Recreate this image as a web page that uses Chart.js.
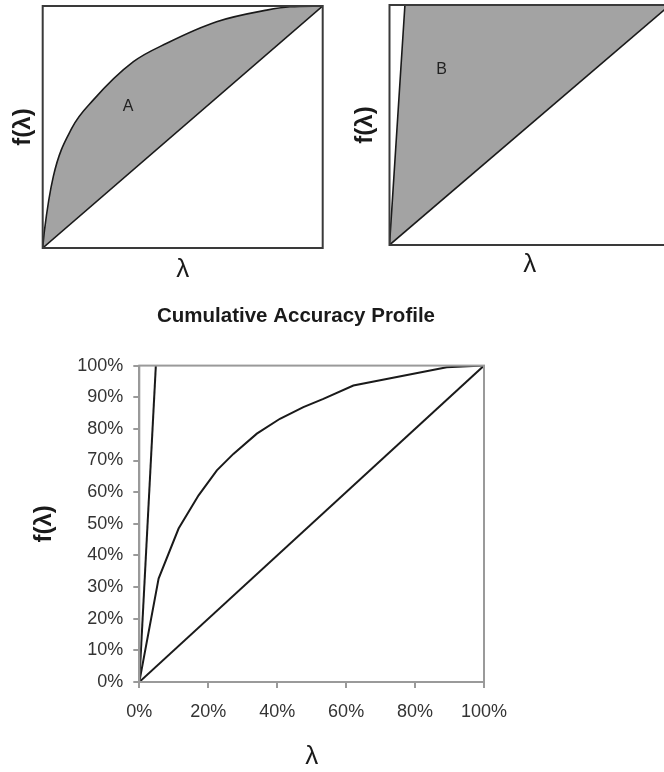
<!DOCTYPE html>
<html>
<head>
<meta charset="utf-8">
<script src="https://cdn.jsdelivr.net/npm/chart.js@4.4.0/dist/chart.umd.min.js"></script>
<style>
  html, body { margin: 0; padding: 0; background: #fff; overflow: hidden; width: 664px; height: 772px; position: relative; }
  canvas { position: absolute; }
  #capA { left: 0; top: 0; }
  #capB { left: 340px; top: 0; }
  #capMain { left: 0; top: 290px; }
</style>
</head>
<body>
<canvas id="capA" width="330" height="290"></canvas>
<canvas id="capB" width="340" height="290"></canvas>
<canvas id="capMain" width="592" height="482"></canvas>
<script>
// x: share of the population (%), y: share of defaulters captured (%)

// Random model: the diagonal
const randomX = [0, 100];
const randomY = [0, 100];

// Rating model, schematic panel "A"
const sketchModelX = [0, 0.6, 3.8, 10.4, 18.1, 32.4, 44.3, 62.1, 80, 88.3, 100];
const sketchModelY = [0, 7, 29.6, 49.5, 61.2, 77, 84.6, 93.5, 98.3, 99.7, 100];

// Perfect model, schematic panel "B"
const sketchPerfectX = [0, 5.5, 100];
const sketchPerfectY = [0, 100, 100];

// Cumulative Accuracy Profile: rating model
const modelX = [0, 5.6, 11.4, 17.2, 22.5, 27.3, 34.1, 40.8, 47.6, 53.4, 62.1, 89.2, 100];
const modelY = [0, 32.7, 48.5, 59, 66.9, 72.1, 78.5, 83.2, 86.9, 89.5, 93.7, 99.5, 100];

// Cumulative Accuracy Profile: perfect model
const perfectX = [0, 4.8];
const perfectY = [0, 100];

// Tick values of the main chart
const xTickValues = [0, 20, 40, 60, 80, 100];
const yTickValues = [0, 10, 20, 30, 40, 50, 60, 70, 80, 90, 100];

const FONT = "'Liberation Sans', Arial, Helvetica, sans-serif";
Chart.defaults.font.family = FONT;
Chart.defaults.animation = false;

const pts = (xs, ys) => xs.map((x, i) => ({ x, y: ys[i] }));

// Box around the plot area
const framePlugin = {
  id: 'frame',
  afterDatasetsDraw(chart, args, opts) {
    const { ctx, chartArea: a } = chart;
    ctx.save();
    ctx.strokeStyle = opts.color;
    ctx.lineWidth = opts.width;
    ctx.strokeRect(a.left, a.top, a.right - a.left, a.bottom - a.top);
    ctx.restore();
  }
};

// Letter naming the shaded area, placed in data units
const areaLabelPlugin = {
  id: 'areaLabel',
  afterDatasetsDraw(chart, args, opts) {
    const { ctx, scales } = chart;
    ctx.save();
    ctx.font = opts.font;
    ctx.fillStyle = opts.color;
    ctx.textAlign = 'center';
    ctx.textBaseline = 'middle';
    ctx.fillText(opts.text, scales.x.getPixelForValue(opts.x), scales.y.getPixelForValue(opts.y));
    ctx.restore();
  }
};

function sketchPanel(canvasId, datasets, geo, label) {
  return new Chart(document.getElementById(canvasId), {
    type: 'line',
    data: { datasets },
    options: {
      responsive: false,
      animation: false,
      layout: { padding: { left: 0, top: geo.top, right: geo.right, bottom: 0 } },
      plugins: {
        legend: { display: false },
        tooltip: { enabled: false },
        filler: { drawTime: 'beforeDatasetsDraw' },
        frame: { color: '#3a3a3a', width: 2 },
        areaLabel: label
      },
      scales: {
        x: {
          type: 'linear', min: 0, max: 100,
          ticks: { display: false },
          grid: { display: false },
          border: { display: false },
          title: {
            display: true, text: 'λ', color: '#1a1a1a',
            font: { family: FONT, size: 26 },
            padding: { top: 0, bottom: geo.xTitlePad }
          },
          afterFit: s => { s.height = geo.xHeight; }
        },
        y: {
          type: 'linear', min: 0, max: 100,
          ticks: { display: false },
          grid: { display: false },
          border: { display: false },
          title: {
            display: true, text: 'f(λ)', color: '#1a1a1a',
            font: { family: FONT, size: 24, weight: 'bold' },
            padding: { top: geo.yTitlePad, bottom: 0 }
          },
          afterFit: s => { s.width = geo.yWidth; }
        }
      }
    },
    plugins: [framePlugin, areaLabelPlugin]
  });
}

const lineStyle = { borderColor: '#1a1a1a', borderWidth: 1.6, pointRadius: 0, tension: 0 };
const shade = '#a3a3a3';

sketchPanel('capA', [
  { ...lineStyle, cubicInterpolationMode: 'monotone', data: pts(sketchModelX, sketchModelY), fill: { target: 1 }, backgroundColor: shade },
  { ...lineStyle, data: pts(randomX, randomY), fill: false }
], { top: 6, right: 7.3, xHeight: 42, xTitlePad: 4.4, yWidth: 42.7, yTitlePad: 8.6 },
   { text: 'A', x: 30.5, y: 58.3, font: `16px ${FONT}`, color: '#222' });

sketchPanel('capB', [
  { ...lineStyle, data: pts(sketchPerfectX, sketchPerfectY), fill: { target: 1 }, backgroundColor: shade },
  { ...lineStyle, data: pts(randomX, randomY), fill: false }
], { top: 5, right: 10, xHeight: 45, xTitlePad: 9.4, yWidth: 49.5, yTitlePad: 10.6 },
   { text: 'B', x: 18.6, y: 72.9, font: `16px ${FONT}`, color: '#222' });

// Main chart
const axisGrey = '#9a9a9a';
const mainLine = { borderColor: '#1a1a1a', borderWidth: 2, pointRadius: 0, tension: 0, fill: false };

new Chart(document.getElementById('capMain'), {
  type: 'line',
  data: {
    datasets: [
      { ...mainLine, data: pts(perfectX, perfectY) },
      { ...mainLine, data: pts(modelX, modelY) },
      { ...mainLine, data: pts(randomX, randomY) }
    ]
  },
  options: {
    responsive: false,
    animation: false,
    layout: { padding: 0 },
    plugins: {
      legend: { display: false },
      tooltip: { enabled: false },
      frame: { color: axisGrey, width: 2 },
      title: {
        display: true,
        text: 'Cumulative Accuracy Profile',
        color: '#1a1a1a',
        font: { family: FONT, size: 20.5, weight: 'bold' },
        padding: { top: 14, bottom: 37 }
      }
    },
    scales: {
      x: {
        type: 'linear', min: 0, max: 100,
        afterBuildTicks: s => { s.ticks = xTickValues.map(v => ({ value: v })); },
        ticks: {
          callback: v => v + '%', color: '#333', padding: 13,
          font: { family: FONT, size: 18 }, autoSkip: false, maxRotation: 0
        },
        grid: { display: true, drawOnChartArea: false, drawTicks: true, tickLength: 6, color: axisGrey, lineWidth: 2 },
        border: { display: true, color: axisGrey, width: 2 },
        title: {
          display: true, text: 'λ', color: '#1a1a1a',
          font: { family: FONT, size: 26 },
          padding: { top: 0, bottom: 0 }
        },
        afterFit: s => { s.height = 90; }
      },
      y: {
        type: 'linear', min: 0, max: 100,
        afterBuildTicks: s => { s.ticks = yTickValues.map(v => ({ value: v })); },
        ticks: {
          callback: v => v + '%', color: '#333', padding: 10,
          font: { family: FONT, size: 18 }, autoSkip: false
        },
        grid: { display: true, drawOnChartArea: false, drawTicks: true, tickLength: 6, color: axisGrey, lineWidth: 2 },
        border: { display: true, color: axisGrey, width: 2 },
        title: {
          display: true, text: 'f(λ)', color: '#1a1a1a',
          font: { family: FONT, size: 24, weight: 'bold' },
          padding: { top: 29.6, bottom: 0 }
        },
        afterFit: s => { s.width = 139.3; }
      },
      // empty margin on the right so the title sits over the whole figure
      margin: {
        type: 'linear', position: 'right', display: true,
        ticks: { display: false }, grid: { display: false }, border: { display: false },
        afterFit: s => { s.width = 108; }
      }
    }
  },
  plugins: [framePlugin]
});
</script>
</body>
</html>
